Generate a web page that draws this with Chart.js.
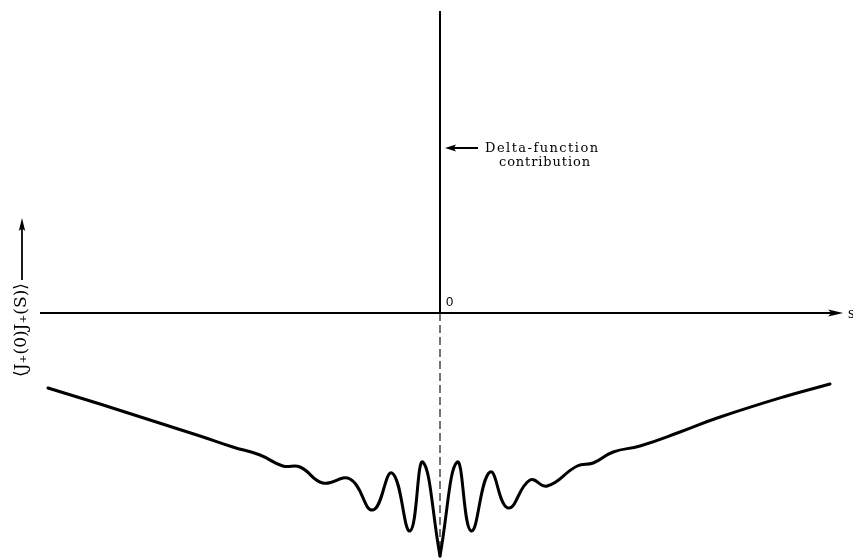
<!DOCTYPE html>
<html><head><meta charset="utf-8">
<script src="https://cdn.jsdelivr.net/npm/chart.js@4/dist/chart.umd.min.js"></script>
<style>html,body{margin:0;padding:0;background:#fff}#wrap{width:853px;height:558px;position:relative}</style>
</head><body><div id="wrap"><canvas id="c"></canvas></div>
<script>
// Correlation function <J+(0)J+(s)> versus s (arbitrary units)
const sLeft    = [-9.8, -8.5, -7.25, -6.0, -5.18, -4.5, -3.93, -3.5, -2.93, -2.25, -1.68, -1.2, -0.75, -0.43, 0];
const corrLeft = [-3.0, -3.64, -4.28, -4.92, -5.36, -5.68, -6.12, -6.16, -6.8, -6.64, -7.88, -6.4, -8.72, -5.96, -9.72];
const sRight    = [0, 0.43, 0.78, 1.25, 1.7, 2.25, 2.68, 3.43, 3.83, 4.33, 5.0, 6.0, 6.93, 8.58, 9.75];
const corrRight = [-9.72, -5.96, -8.72, -6.36, -7.8, -6.68, -6.92, -6.12, -6.0, -5.56, -5.32, -4.76, -4.2, -3.36, -2.84];
// Delta-function spike at s = 0
const deltaS = [0, 0];
const deltaVal = [0, 12.08];
const dashS = [0, 0];
const dashVal = [0, -9.6];
// Texts
const yLabel = '\u27E8J\u208A(0)J\u208A(S)\u27E9';
const xLabel = 's';
const originLabel = '0';
const noteLines = ['Delta-function', 'contribution'];

const pts = (xs, ys) => xs.map((v, i) => ({x: v, y: ys[i]}));

function arrowHead(ctx, tx, ty, ang, len, hw) {
  ctx.save();
  ctx.translate(tx, ty); ctx.rotate(ang);
  ctx.beginPath();
  ctx.moveTo(0, 0); ctx.lineTo(-len, -hw); ctx.lineTo(-len * 0.8, 0); ctx.lineTo(-len, hw);
  ctx.closePath(); ctx.fill();
  ctx.restore();
}

const deco = {
  id: 'deco',
  afterDatasetsDraw(chart) {
    const {ctx, scales: {x, y}} = chart;
    const X = v => x.getPixelForValue(v), Y = v => y.getPixelForValue(v);
    ctx.save();
    ctx.strokeStyle = '#000'; ctx.fillStyle = '#000';
    // horizontal s-axis with arrow
    const y0 = Y(0);
    ctx.lineWidth = 2;
    ctx.beginPath(); ctx.moveTo(X(-10), y0); ctx.lineTo(X(9.8), y0); ctx.stroke();
    arrowHead(ctx, X(10.08), y0, 0, 15, 3.5);
    ctx.font = '17px "Liberation Serif"';
    ctx.textBaseline = 'middle'; ctx.textAlign = 'left';
    ctx.fillText(xLabel, X(10.2), y0 + 1);
    // origin label
    ctx.font = '13px "Liberation Sans"';
    ctx.textBaseline = 'alphabetic';
    ctx.fillText(originLabel, X(0.15), Y(0.3));
    // annotation arrow
    ctx.lineWidth = 2;
    ctx.beginPath(); ctx.moveTo(X(0.95), Y(6.6)); ctx.lineTo(X(0.3), Y(6.6)); ctx.stroke();
    arrowHead(ctx, X(0.125), Y(6.6), Math.PI, 11, 3.5);
    // annotation text
    ctx.font = '13px "DejaVu Serif"';
    const fitText = (t, left, base, width) => {
      ctx.letterSpacing = '0px';
      const w = ctx.measureText(t).width;
      const sp = (width - w) / (t.length - 1);
      ctx.letterSpacing = sp.toFixed(2) + 'px';
      ctx.fillText(t, left, base);
      ctx.letterSpacing = '0px';
    };
    fitText(noteLines[0], X(1.125), Y(6.44), 113);
    fitText(noteLines[1], X(1.475), Y(5.88), 91);
    // y-axis label and arrow
    ctx.lineWidth = 1.8;
    const lx = 22;
    ctx.beginPath(); ctx.moveTo(lx, Y(1.32)); ctx.lineTo(lx, Y(3.4)); ctx.stroke();
    arrowHead(ctx, lx, Y(3.8), -Math.PI / 2, 13, 3.2);
    ctx.save();
    ctx.translate(lx, Y(-0.68));
    ctx.rotate(-Math.PI / 2);
    ctx.font = '13px "DejaVu Serif"';
    const w = ctx.measureText(yLabel).width;
    const fs = 13 * 94 / w;
    ctx.font = fs.toFixed(1) + 'px "DejaVu Serif"';
    ctx.textAlign = 'center'; ctx.textBaseline = 'middle';
    ctx.fillText(yLabel, 0, 0);
    ctx.restore();
    ctx.restore();
  }
};

const curveStyle = {showLine: true, borderColor: '#000', borderWidth: 3, pointRadius: 0,
  tension: 0.45, clip: false, borderCapStyle: 'round', borderJoinStyle: 'miter'};

new Chart(document.getElementById('c'), {
  type: 'scatter',
  data: {
    datasets: [
      Object.assign({data: pts(sLeft, corrLeft)}, curveStyle),
      Object.assign({data: pts(sRight, corrRight)}, curveStyle),
      {data: pts(deltaS, deltaVal), showLine: true, borderColor: '#000', borderWidth: 2, pointRadius: 0, clip: false},
      {data: pts(dashS, dashVal), showLine: true, borderColor: '#444', borderWidth: 1.5, borderDash: [8, 4], pointRadius: 0, clip: false}
    ]
  },
  options: {
    responsive: true, maintainAspectRatio: false, animation: false, events: [],
    layout: {padding: 0},
    plugins: {legend: {display: false}, tooltip: {enabled: false}},
    scales: {
      x: {type: 'linear', min: -11, max: 10.325, display: false},
      y: {type: 'linear', min: -9.8, max: 12.52, display: false}
    }
  },
  plugins: [deco]
});
</script>
</body></html>
